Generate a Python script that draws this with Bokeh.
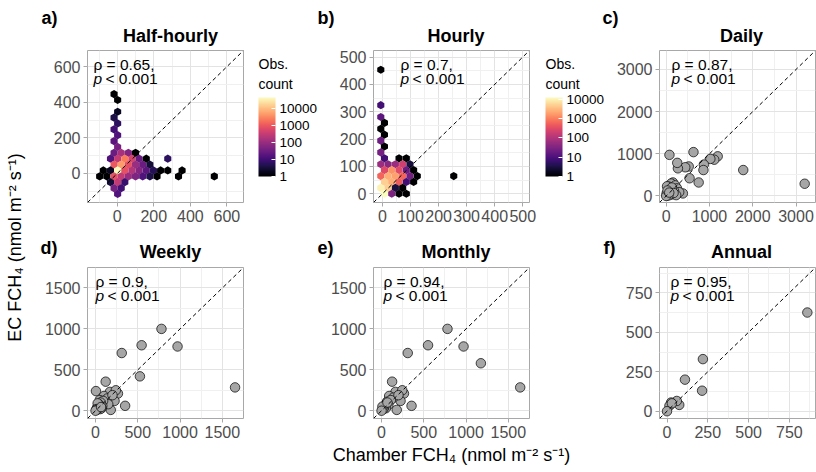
import math
from bokeh.plotting import figure
from bokeh.models import (Range1d, FixedTicker, Label, Slope, ColorBar, LogColorMapper,
                          PrintfTickFormatter, ColumnDataSource)
from bokeh.layouts import row, column
from bokeh.palettes import magma
from bokeh.embed import file_html
from bokeh.resources import INLINE

FONT = "Liberation Sans"

# ---------------- data ----------------
# a) Half-hourly hexbin cells: centre x, centre y, observation count
hh_x = [-17.6, 2, 2, -17.6, 2, -17.6, 2, -17.6, 2,
        -17.6, 21.6, 60.8, 100,
        -37.2, 2, 41.2, 80.4, 119.6, 158.8, 276.4,
        -17.6, 21.6, 60.8, 100, 139.2, 178.4,
        -76.4, -37.2, 2, 41.2, 80.4, 119.6, 158.8, 198, 237.2, 276.4, 354.8,
        -96.4, -57.2, -17.6, 21.6, 60.8, 100, 139.2, 178.4, 217.6, 335.2, 531.2,
        -37.2, 2, 41.2,
        -17.6, 21.6,
        2]
hh_y = [446, 413, 347, 314, 281, 248, 215, 182, 149,
        116, 116, 116, 116,
        83, 83, 83, 83, 83, 83, 83,
        50, 50, 50, 50, 50, 50,
        17, 17, 17, 17, 17, 17, 17, 17, 17, 17, 17,
        -16, -16, -16, -16, -16, -16, -16, -16, -16, -16, -16,
        -49, -49, -49,
        -82, -82,
        -115]
hh_n = [1, 1, 2, 4, 6, 10, 15, 20, 40,
        30, 150, 60, 1,
        15, 300, 2500, 500, 30, 1, 6,
        1000, 5000, 800, 100, 30, 3,
        1, 2, 45000, 800, 200, 60, 20, 5, 1, 1, 1,
        1, 1, 800, 300, 100, 50, 15, 4, 1, 1, 1,
        3, 300, 8,
        40, 10,
        15]

# b) Hourly hexbin cells
hb_x = [-6, -6, -6, 7, -6, 7, -6, 7, -6,
        7, 59, 85,
        -6, 20, 46, 72, 98,
        7, 33, 59, 85, 111,
        -6, 20, 46, 72, 98, 124, 254,
        7, 33, 59, 85, 111,
        -6, 20, 46, 72,
        7, 33, 59, 85]
hb_y = [453.6, 324, 280.8, 259.2, 237.6, 216, 194.4, 172.8, 151.2,
        129.6, 129.6, 129.6,
        108, 108, 108, 108, 108,
        86.4, 86.4, 86.4, 86.4, 86.4,
        64.8, 64.8, 64.8, 64.8, 64.8, 64.8, 64.8,
        43.2, 43.2, 43.2, 43.2, 43.2,
        21.6, 21.6, 21.6, 21.6,
        0, 0, 0, 0]
hb_n = [1, 8, 15, 1, 1, 1, 20, 1, 25,
        8, 1, 1,
        60, 40, 60, 200, 3,
        300, 1500, 300, 20, 1,
        600, 2500, 2000, 600, 25, 1, 1,
        5000, 2500, 500, 8, 1,
        10000, 5000, 3, 1,
        13000, 30, 1, 1]

# c) Daily
daily_x = [3200, 1780, 1190, 1110, 1020, 870, 860, 750, 630, 540, 520, 440, 270, 255, 75,
           385, 155, 115, 210, 250, 300, 180, 60, 100, 140, 40, 20, 230, 90, 130, 170, 50,
           10, 0, 30, 70]
daily_y = [290, 615, 940, 860, 880, 745, 615, 320, 1040, 420, 700, 680, 655, 785, 975,
           60, 320, 295, 250, 180, 90, 120, 220, 150, 40, 100, 230, 20, 30, 200, 70, 10,
           60, 0, 130, 80]

# d) Weekly
weekly_x = [1650, 780, 970, 545, 310, 525, 350, 120, 5, 170, 265, 225, 180, 100, 50, 240,
            140, 200, 150, 90, 80, 60, 70, 40, 30, 55, 20, 45, 35, 25, 10, 15, 0, 65]
weekly_y = [285, 1000, 785, 800, 705, 420, 60, 355, 240, 230, 210, 120, 10, 180, 130, 250,
            150, 190, 80, 120, 60, 100, 30, 80, 50, 20, 40, 60, 30, 90, 20, 10, 0, 45]

# e) Monthly
monthly_x = [1640, 780, 970, 550, 1175, 310, 355, 125, 165, 265, 225, 180, 245, 90, 65,
             140, 200, 110, 80, 60, 40, 50, 30, 20, 10, 0, 70]
monthly_y = [285, 1000, 785, 800, 580, 705, 60, 355, 230, 210, 120, 10, 250, 180, 110,
             160, 190, 130, 70, 90, 60, 30, 40, 20, 50, 0, 100]

# f) Annual
annual_x = [860, 220, 110, 215, 75, 60, 25, 15, 30, 0]
annual_y = [625, 330, 200, 130, 40, 65, 55, 35, 50, 0]

tags = ["a)", "b)", "c)", "d)", "e)", "f)"]
titles = ["Half-hourly", "Hourly", "Daily", "Weekly", "Monthly", "Annual"]
rhos = ["ρ = 0.65,", "ρ = 0.7,", "ρ = 0.87,", "ρ = 0.9,", "ρ = 0.94,", "ρ = 0.95,"]
legend_ticks = [1, 10, 100, 1000, 10000]

# ---------------- helpers ----------------
def blank(w, h):
    f = figure(width=w, height=h, output_backend="svg", toolbar_location=None,
               x_range=Range1d(0, w), y_range=Range1d(0, h),
               x_axis_location=None, y_axis_location=None, min_border=0)
    f.grid.visible = False
    f.outline_line_color = None
    return f


def txt(p, x, y, text, size, style="normal", align="left", color="black", angle=0):
    p.add_layout(Label(x=x, y=y, x_units="screen", y_units="screen", text=text,
                       text_font=FONT, text_font_size=size, text_font_style=style,
                       text_align=align, text_baseline="middle", text_color=color,
                       angle=angle))


def panel(lim, ticks, minor, borders, fh):
    left, right, top, bottom = borders
    p = figure(frame_width=156, frame_height=fh,
               x_range=Range1d(*lim), y_range=Range1d(*lim),
               output_backend="svg", toolbar_location=None,
               min_border_left=left, min_border_right=right,
               min_border_top=top, min_border_bottom=bottom)
    p.outline_line_color = "#A8A8A8"
    p.outline_line_width = 1
    for ax in (p.xaxis[0], p.yaxis[0]):
        ax.ticker = FixedTicker(ticks=ticks, minor_ticks=minor)
        ax.axis_line_color = None
        ax.major_tick_line_color = "#A8A8A8"
        ax.major_tick_in = 0
        ax.major_tick_out = 4
        ax.minor_tick_line_color = None
        ax.major_label_text_font = FONT
        ax.major_label_text_font_size = "16px"
        ax.major_label_text_color = "#4D4D4D"
        ax.major_label_standoff = 3
    p.grid.grid_line_color = "#E3E3E3"
    p.grid.minor_grid_line_color = "#F0F0F0"
    p.add_layout(Slope(gradient=1, y_intercept=0, line_color="black",
                       line_dash="4 3", line_width=1))
    return p


def rho(p, i, fh, dx):
    txt(p, dx, fh - 14, rhos[i], "15.5px")
    txt(p, dx, fh - 28, "p", "15.5px", "italic")
    txt(p, dx + 12, fh - 28, "< 0.001", "15.5px")


def hexes(p, xs, ys, ns, high):
    mapper = LogColorMapper(palette=magma(256), low=1, high=high)
    src = ColumnDataSource(dict(x=xs, y=ys, n=ns))
    p.scatter("x", "y", source=src, marker="hex", size=8.2, angle=math.pi / 2,
              fill_color={"field": "n", "transform": mapper}, line_color=None)
    return mapper


def legend_fig(mapper, w, h, bx):
    # the frame of this figure is aligned with the neighbouring panels' frames
    f = blank(w, h)
    txt(f, bx, 139, "Obs.", "14px")
    txt(f, bx, 119, "count", "14px")
    cb = ColorBar(color_mapper=mapper, ticker=FixedTicker(ticks=legend_ticks),
                  formatter=PrintfTickFormatter(format="%d"), orientation="vertical",
                  width=17, height=79, location=(bx, 26), padding=0, margin=0,
                  title=None,
                  major_label_text_font=FONT, major_label_text_font_size="13.5px",
                  major_label_text_color="black", label_standoff=4,
                  major_tick_line_color="white", major_tick_in=4, major_tick_out=0,
                  minor_tick_line_color=None, bar_line_color=None,
                  background_fill_alpha=0, border_line_color=None)
    f.add_layout(cb)
    return f


def points(p, xs, ys):
    p.scatter(xs, ys, size=9.5, fill_color="#A6A6A6", line_color="black", line_width=0.7)


TOP = 152
BOT = 151
ROW1_H = 4 + TOP + 30

# ---------- top row ----------
pa = panel((-163, 691), [0, 200, 400, 600], [-100, 100, 300, 500], (59, 9, 4, 30), TOP)
ma = hexes(pa, hh_x, hh_y, hh_n, 45000)
rho(pa, 0, TOP, 6)
la = legend_fig(ma, 73, ROW1_H, 6)

pb = panel((-32, 524), [0, 100, 200, 300, 400, 500], [50, 150, 250, 350, 450], (48, 10, 4, 30), TOP)
mb = hexes(pb, hb_x, hb_y, hb_n, 12600)
rho(pb, 1, TOP, 27)
lb = legend_fig(mb, 74, ROW1_H, 6)

pc = panel((-155, 3450), [0, 1000, 2000, 3000], [500, 1500, 2500], (46, 2, 4, 30), TOP)
points(pc, daily_x, daily_y)
rho(pc, 2, TOP, 12)

# ---------- bottom row ----------
pd = panel((-95, 1750), [0, 500, 1000, 1500], [250, 750, 1250], (59, 82, 4, 54), BOT)
points(pd, weekly_x, weekly_y)
rho(pd, 3, BOT, 8)

pe = panel((-95, 1750), [0, 500, 1000, 1500], [250, 750, 1250], (48, 84, 4, 54), BOT)
points(pe, monthly_x, monthly_y)
rho(pe, 4, BOT, 10)
pe.xaxis.axis_label = "Chamber FCH₄ (nmol m⁻² s⁻¹)"
pe.xaxis.axis_label_text_font = FONT
pe.xaxis.axis_label_text_font_size = "18px"
pe.xaxis.axis_label_text_font_style = "normal"
pe.xaxis.axis_label_text_color = "black"
pe.xaxis.axis_label_standoff = 4

pf = panel((-46, 910), [0, 250, 500, 750], [125, 375, 625, 875], (46, 2, 4, 54), BOT)
points(pf, annual_x, annual_y)
rho(pf, 5, BOT, 11)

# ---------- title strips ----------
s1 = blank(788, 46)
for i, (tx, cx) in enumerate([(13, 142), (289, 427.5), (574, 713)]):
    txt(s1, tx, 28.5, tags[i], "18px", "bold")
    txt(s1, cx, 10.5, titles[i], "18px", "bold", "center")

s2 = blank(788, 31)
for i, (tx, cx) in enumerate([(12, 142), (289, 427.5), (575, 713)]):
    txt(s2, tx, 15.5, tags[i + 3], "18px", "bold")
    txt(s2, cx, 11.5, titles[i + 3], "18px", "bold", "center")

# ---------- y axis title ----------
yl = blank(28, 472)
txt(yl, 14, 225, "EC FCH₄ (nmol m⁻² s⁻¹)", "18px", align="center", angle=math.pi / 2)

layout = row(yl, column(s1, row(pa, la, pb, lb, pc), s2, row(pd, pe, pf)))

open("out.html", "w").write(file_html(layout, INLINE))
